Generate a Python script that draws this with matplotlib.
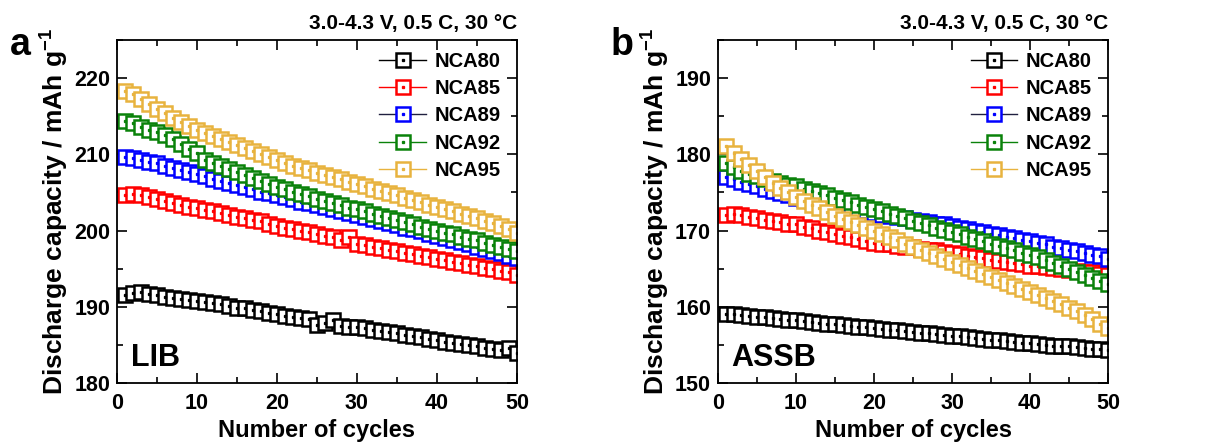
import numpy as np
import matplotlib
matplotlib.use("Agg")
import matplotlib.pyplot as plt
from matplotlib.legend_handler import HandlerTuple
from matplotlib.ticker import MultipleLocator

plt.rcParams['font.family'] = ['Liberation Sans', 'DejaVu Sans']
plt.rcParams['font.weight'] = 'bold'
plt.rcParams['mathtext.fontset'] = 'custom'
plt.rcParams['mathtext.rm'] = 'Liberation Sans:bold'
plt.rcParams['mathtext.default'] = 'rm'

cycles = list(range(1, 51))
labels = ['NCA80', 'NCA85', 'NCA89', 'NCA92', 'NCA95']
colors = ['black', '#FF0000', '#0000FF', '#0A820A', '#E8B33E']
line_colors = ['black', '#FF0000', '#202040', '#0A820A', '#E8B33E']
condition = '3.0-4.3 V, 0.5 C, 30 °C'

# panel a: liquid-electrolyte cells (LIB)
lib_80 = [191.5, 191.8, 191.9, 191.7, 191.5, 191.3, 191.2, 191.0, 190.9, 190.7,
          190.6, 190.5, 190.3, 190.1, 189.9, 189.8, 189.6, 189.4, 189.2, 189.0,
          188.8, 188.7, 188.5, 188.4, 187.6, 187.9, 188.2, 187.5, 187.4, 187.3,
          187.2, 187.0, 186.8, 186.7, 186.5, 186.3, 186.1, 186.0, 185.8, 185.6,
          185.4, 185.3, 185.1, 185.0, 184.8, 184.6, 184.4, 184.3, 184.6, 183.9]
lib_85 = [204.7, 204.8, 204.6, 204.4, 204.1, 203.9, 203.6, 203.4, 203.1, 202.9,
          202.7, 202.5, 202.3, 202.0, 201.8, 201.6, 201.4, 201.2, 200.9, 200.6,
          200.4, 200.2, 200.0, 199.8, 199.6, 199.3, 199.1, 198.8, 199.2, 198.3,
          198.1, 197.9, 197.7, 197.5, 197.3, 197.1, 196.9, 196.7, 196.5, 196.3,
          196.1, 195.9, 195.7, 195.5, 195.3, 195.1, 194.9, 194.7, 194.5, 194.2]
lib_89 = [209.6, 209.5, 209.3, 209.0, 208.8, 208.5, 208.2, 208.0, 207.7, 207.4,
          207.1, 206.8, 206.5, 206.3, 206.0, 205.7, 205.4, 205.1, 204.9, 204.6,
          204.4, 204.1, 203.8, 203.6, 203.3, 203.1, 202.8, 202.6, 202.3, 202.0,
          201.8, 201.5, 201.2, 201.0, 200.7, 200.4, 200.2, 199.9, 199.6, 199.3,
          199.0, 198.8, 198.5, 198.2, 197.9, 197.6, 197.3, 197.0, 196.7, 196.4]
lib_92 = [214.4, 214.1, 213.6, 213.2, 212.9, 212.6, 212.0, 211.3, 210.7, 210.2,
          209.3, 208.9, 208.5, 208.1, 207.7, 207.3, 206.9, 206.5, 206.1, 205.7,
          205.4, 205.1, 204.8, 204.5, 204.2, 203.9, 203.6, 203.3, 203.0, 202.8,
          202.5, 202.2, 201.9, 201.6, 201.4, 201.1, 200.8, 200.5, 200.2, 200.0,
          199.7, 199.5, 199.2, 198.9, 198.7, 198.4, 198.1, 197.9, 197.6, 197.3]
lib_95 = [218.3, 217.9, 217.3, 216.6, 216.0, 215.4, 214.8, 214.2, 213.7, 213.2,
          212.8, 212.4, 212.0, 211.6, 211.2, 210.8, 210.4, 210.0, 209.6, 209.2,
          208.8, 208.5, 208.2, 207.9, 207.6, 207.3, 207.0, 206.7, 206.4, 206.1,
          205.8, 205.5, 205.2, 204.9, 204.6, 204.3, 204.0, 203.7, 203.4, 203.1,
          202.8, 202.5, 202.2, 201.9, 201.6, 201.3, 201.0, 200.6, 200.2, 199.7]

# panel b: all-solid-state cells (ASSB)
assb_80 = [159.1, 159.0, 158.9, 158.8, 158.7, 158.6, 158.5, 158.4, 158.3, 158.2,
           158.1, 158.0, 157.9, 157.8, 157.7, 157.6, 157.5, 157.4, 157.3, 157.2,
           157.1, 157.0, 156.9, 156.8, 156.7, 156.6, 156.5, 156.4, 156.3, 156.2,
           156.1, 156.0, 155.9, 155.8, 155.7, 155.6, 155.5, 155.4, 155.3, 155.2,
           155.1, 155.0, 154.9, 154.9, 154.8, 154.7, 154.6, 154.5, 154.4, 154.3]
assb_85 = [172.1, 172.2, 172.0, 171.8, 171.6, 171.4, 171.3, 171.1, 170.9, 170.8,
           170.5, 170.3, 170.0, 169.8, 169.6, 169.3, 169.1, 168.9, 168.6, 168.4,
           168.3, 168.2, 168.0, 167.9, 167.8, 167.6, 167.5, 167.4, 167.2, 167.1,
           166.9, 166.7, 166.5, 166.4, 166.2, 166.0, 165.9, 165.7, 165.6, 165.4,
           165.3, 165.2, 165.1, 164.9, 164.8, 164.7, 164.6, 164.5, 164.3, 164.2]
assb_89 = [177.0, 176.7, 176.4, 176.1, 175.8, 175.5, 175.2, 174.9, 174.6, 174.3,
           174.1, 173.9, 173.7, 173.5, 173.3, 173.1, 172.9, 172.7, 172.5, 172.3,
           172.1, 171.9, 171.8, 171.6, 171.4, 171.3, 171.1, 170.9, 170.8, 170.6,
           170.4, 170.2, 170.0, 169.8, 169.6, 169.4, 169.2, 169.0, 168.8, 168.6,
           168.4, 168.2, 167.9, 167.7, 167.5, 167.3, 167.1, 166.8, 166.6, 166.3]
assb_92 = [178.9, 178.3, 177.8, 177.4, 177.1, 176.8, 176.5, 176.3, 176.0, 175.8,
           175.5, 175.2, 174.9, 174.6, 174.3, 174.0, 173.7, 173.4, 173.1, 172.8,
           172.5, 172.2, 171.9, 171.6, 171.3, 171.0, 170.7, 170.4, 170.1, 169.8,
           169.5, 169.2, 168.9, 168.6, 168.3, 168.0, 167.7, 167.4, 167.1, 166.8,
           166.5, 166.1, 165.7, 165.4, 165.0, 164.6, 164.2, 163.8, 163.4, 163.0]
assb_95 = [181.1, 180.2, 179.4, 178.6, 177.8, 177.0, 176.3, 175.6, 175.0, 174.4,
           173.9, 173.4, 172.9, 172.4, 171.9, 171.5, 171.1, 170.7, 170.3, 169.9,
           169.5, 169.1, 168.7, 168.3, 167.9, 167.5, 167.1, 166.7, 166.3, 165.9,
           165.5, 165.1, 164.7, 164.3, 163.9, 163.5, 163.1, 162.7, 162.3, 161.9,
           161.5, 161.1, 160.7, 160.3, 159.9, 159.4, 158.9, 158.4, 157.8, 157.2]

panels = [
    dict(series=[lib_80, lib_85, lib_89, lib_92, lib_95], ylim=(180, 225),
         tag='a', cell='LIB', rect=[0.0961, 0.1432, 0.3287, 0.7673]),
    dict(series=[assb_80, assb_85, assb_89, assb_92, assb_95], ylim=(150, 195),
         tag='b', cell='ASSB', rect=[0.590, 0.1432, 0.3205, 0.7673]),
]

fig = plt.figure(figsize=(12.17, 4.47), dpi=100)

for p in panels:
    ax = fig.add_axes(p['rect'])
    handles = []
    for vals, c, lc, lab in zip(p['series'], colors, line_colors, labels):
        sq, = ax.plot(cycles, vals, color=lc, lw=1.0, marker='s', ms=9.5,
                      mec=c, mfc='white', mew=1.8, label=lab)
        dot, = ax.plot(cycles, vals, ls='none', marker='s', ms=1.4, color=c)
        handles.append((sq, dot))

    ax.set_xlim(0, 50)
    ax.set_ylim(*p['ylim'])
    ax.xaxis.set_major_locator(MultipleLocator(10))
    ax.xaxis.set_minor_locator(MultipleLocator(5))
    ax.yaxis.set_major_locator(MultipleLocator(10))
    ax.yaxis.set_minor_locator(MultipleLocator(5))
    ax.tick_params(which='both', direction='in', top=True, right=True,
                   width=1.2, labelsize=15.5)
    ax.tick_params(axis='x', which='both', pad=7)
    ax.tick_params(axis='y', which='both', pad=5)
    ax.tick_params(which='major', length=7)
    ax.tick_params(which='minor', length=4)
    for s in ax.spines.values():
        s.set_linewidth(1.3)

    ax.set_xlabel('Number of cycles', fontsize=17, fontweight='bold', labelpad=4)
    ax.set_ylabel('Discharge capacity / mAh g$^{-1}$', fontsize=19,
                  fontweight='bold', labelpad=2)
    ax.set_title(condition, loc='right', fontsize=15, fontweight='bold', pad=8)
    ax.text(0.035, 0.05, p['cell'], transform=ax.transAxes, fontsize=22,
            fontweight='bold', ha='left', va='baseline')

    leg = ax.legend(handles, labels, handler_map={tuple: HandlerTuple(ndivide=1)},
                    loc='upper right', bbox_to_anchor=(0.995, 1.005), frameon=False,
                    fontsize=14.5, handlelength=2.3, handletextpad=0.45,
                    labelspacing=0.4, borderaxespad=0.3)
    for t in leg.get_texts():
        t.set_fontweight('bold')

    x0 = p['rect'][0]
    fig.text(x0 - 0.088, 0.9, p['tag'], fontsize=27, fontweight='bold',
             ha='left', va='center')

fig.savefig('out.png', dpi=100)
